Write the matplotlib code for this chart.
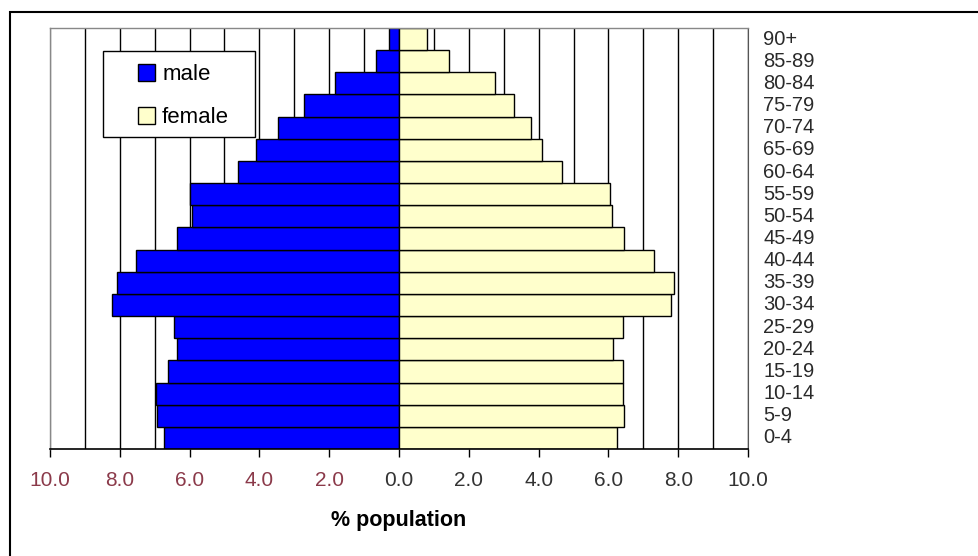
import matplotlib
matplotlib.use("Agg")
import matplotlib.pyplot as plt
from matplotlib.patches import Rectangle
import numpy as np

plt.rcParams['font.family'] = ['Liberation Sans', 'DejaVu Sans']

age_groups = ["0-4", "5-9", "10-14", "15-19", "20-24", "25-29", "30-34", "35-39",
              "40-44", "45-49", "50-54", "55-59", "60-64", "65-69", "70-74",
              "75-79", "80-84", "85-89", "90+"]
male = [6.73, 6.92, 6.95, 6.61, 6.35, 6.46, 8.21, 8.07, 7.54, 6.35, 5.92, 5.99,
        4.61, 4.10, 3.48, 2.72, 1.83, 0.67, 0.28]
female = [6.24, 6.46, 6.41, 6.42, 6.14, 6.42, 7.79, 7.88, 7.31, 6.46, 6.09, 6.06,
          4.68, 4.09, 3.79, 3.30, 2.75, 1.43, 0.79]
xtick_vals = [-10, -8, -6, -4, -2, 0, 2, 4, 6, 8, 10]
xtick_labels = ["10.0", "8.0", "6.0", "4.0", "2.0", "0.0", "2.0", "4.0", "6.0", "8.0", "10.0"]

W, H = 979, 556
fig = plt.figure(figsize=(W / 100, H / 100), dpi=100)
fig.patch.set_facecolor('white')

# outer frame
fig.patches.append(Rectangle((10 / W, -0.1), 2.0, 1 - 12 / H + 0.1, transform=fig.transFigure,
                             fill=False, edgecolor='black', linewidth=1.5))

ax = fig.add_axes([50 / W, 1 - 449 / H, (748 - 50) / W, (449 - 28) / H])
y = np.arange(len(age_groups))

# gridlines every 1.0
for gx in range(-9, 11):
    ax.axvline(gx, color='black', linewidth=1.0, zorder=0)
ax.axvline(-10, color='#888888', linewidth=1.0, zorder=0)

male_bars = ax.barh(y, [-m for m in male], height=1.0, color='#0000FF', edgecolor='black',
                    linewidth=1.0, label='male', zorder=2)
female_bars = ax.barh(y, female, height=1.0, color='#FFFFCC', edgecolor='black',
                      linewidth=1.0, label='female', zorder=2)

ax.set_xlim(-10, 10)
ax.set_ylim(-0.5, len(age_groups) - 0.5)

ax.set_xticks(xtick_vals)
ax.set_xticklabels(xtick_labels, fontsize=15)
for lbl, v in zip(ax.get_xticklabels(), xtick_vals):
    lbl.set_color('#8B3A4A' if v < 0 else '#333333')
ax.tick_params(axis='x', direction='out', length=6, width=1, color='black', pad=10)

ax.yaxis.tick_right()
ax.set_yticks(y)
ax.set_yticklabels(age_groups, fontsize=14.5, color='#2a2a2a')
ax.tick_params(axis='y', length=0, pad=11)
for lbl in ax.get_yticklabels():
    lbl.set_verticalalignment('center')

for side in ['left', 'top']:
    ax.spines[side].set_color('#888888')
    ax.spines[side].set_linewidth(1.0)
ax.spines['right'].set_color('#555555')
ax.spines['bottom'].set_color('black')
ax.spines['bottom'].set_linewidth(1.2)

ax.set_xlabel('% population', fontsize=15.5, fontweight='bold', labelpad=14)

# legend box drawn in figure pixels, entries via legend without frame
fig.patches.append(Rectangle((103 / W, 1 - 137 / H), (255 - 103) / W, (137 - 51) / H,
                             transform=fig.transFigure, facecolor='white',
                             edgecolor='black', linewidth=1.0, zorder=5))
leg = fig.legend(handles=[male_bars, female_bars], labels=['male', 'female'],
                 loc='upper left', bbox_to_anchor=(131 / W, 1 - 57 / H),
                 fontsize=16, frameon=False, borderpad=0.3, labelspacing=1.0,
                 handlelength=0.8, handleheight=0.8, handletextpad=0.3,
                 borderaxespad=0)
leg.set_zorder(6)

fig.savefig('out.png', dpi=100)
